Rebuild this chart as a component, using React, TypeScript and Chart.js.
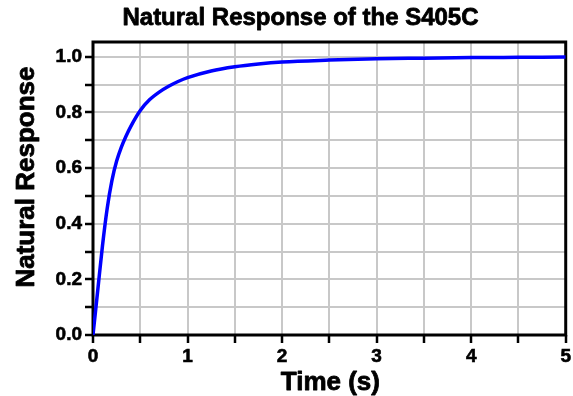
import React, { useEffect, useRef } from "react";
import { Chart, registerables } from "chart.js";

Chart.register(...registerables);

const chartTitle = "Natural Response of the S405C";
const xAxisTitle = "Time (s)";
const yAxisTitle = "Natural Response";

const times = [0, 0.025, 0.05, 0.1, 0.15, 0.2, 0.25, 0.3, 0.35, 0.4, 0.5, 0.6, 0.7, 0.8, 0.9, 1.0, 1.25, 1.5, 1.75, 2.0, 2.5, 3.0, 3.5, 4.0, 4.5, 5.0];
const response = [0, 0.08, 0.16, 0.32, 0.455, 0.555, 0.625, 0.675, 0.715, 0.75, 0.807, 0.846, 0.873, 0.894, 0.911, 0.925, 0.949, 0.964, 0.974, 0.981, 0.988, 0.993, 0.995, 0.997, 0.998, 0.999];

const xTickValues = [0, 0.5, 1, 1.5, 2, 2.5, 3, 3.5, 4, 4.5, 5];
const xTickLabels = ["0", "", "1", "", "2", "", "3", "", "4", "", "5"];
const yTickValues = [0, 0.1, 0.2, 0.3, 0.4, 0.5, 0.6, 0.7, 0.8, 0.9, 1.0];
const yTickLabels = ["0.0", "", "0.2", "", "0.4", "", "0.6", "", "0.8", "", "1.0"];

const FONT = "'Liberation Sans', Arial, Helvetica, sans-serif";

const textPlugin = {
  id: "frameAndText",
  beforeDatasetsDraw(chart: any) {
    const { ctx, chartArea } = chart;
    const { left, top, right, bottom } = chartArea;
    ctx.save();
    ctx.strokeStyle = "#000";
    ctx.lineWidth = 3;
    ctx.strokeRect(left, top, right - left, bottom - top);
    ctx.restore();
  },
  afterDraw(chart: any) {
    const { ctx, chartArea } = chart;
    ctx.save();
    ctx.fillStyle = "#000";
    ctx.strokeStyle = "#000";
    ctx.lineWidth = 0.8;
    ctx.lineJoin = "round";
    ctx.textAlign = "center";
    ctx.textBaseline = "alphabetic";
    ctx.font = `bold 24px ${FONT}`;
    ctx.fillText(chartTitle, 300.5, 25);
    ctx.strokeText(chartTitle, 300.5, 25);
    ctx.font = `bold 26px ${FONT}`;
    const cx = (chartArea.left + chartArea.right) / 2 + 1;
    ctx.fillText(xAxisTitle, cx, 390);
    ctx.strokeText(xAxisTitle, cx, 390);
    ctx.translate(34, 177);
    ctx.rotate(-Math.PI / 2);
    ctx.fillText(yAxisTitle, 0, 0);
    ctx.strokeText(yAxisTitle, 0, 0);
    ctx.restore();
  },
};

export default function App() {
  const ref = useRef<HTMLCanvasElement | null>(null);
  useEffect(() => {
    if (!ref.current) return;
    const tickFont = { family: FONT, size: 19, weight: "bold" };
    const grid = { color: "#c8c8c8", lineWidth: 2, tickColor: "#000", tickLength: 8, tickWidth: 2.5 };
    const chart = new Chart(ref.current, {
      type: "line",
      data: {
        datasets: [
          {
            data: times.map((t, i) => ({ x: t, y: response[i] })),
            borderColor: "#0000ff",
            borderWidth: 3.5,
            pointRadius: 0,
            cubicInterpolationMode: "monotone",
            fill: false,
          },
        ],
      },
      options: {
        animation: false,
        responsive: false,
        devicePixelRatio: 1,
        layout: { padding: { top: 42, right: 7, left: 0, bottom: 0 } },
        plugins: { legend: { display: false }, title: { display: false }, tooltip: { enabled: false } },
        scales: {
          x: {
            type: "linear",
            min: 0,
            max: 5,
            afterBuildTicks: (scale: any) => {
              scale.ticks = xTickValues.map((v) => ({ value: v }));
            },
            afterFit: (scale: any) => {
              scale.height = 61;
            },
            ticks: {
              callback: (_v: any, i: number) => xTickLabels[i],
              font: tickFont,
              color: "#000",
              textStrokeColor: "#000",
              textStrokeWidth: 0.6,
              padding: 2,
              maxRotation: 0,
              autoSkip: false,
            },
            grid,
            border: { display: false },
          },
          y: {
            type: "linear",
            min: 0,
            max: 1.053,
            afterBuildTicks: (scale: any) => {
              scale.ticks = yTickValues.map((v) => ({ value: v }));
            },
            afterFit: (scale: any) => {
              scale.width = 93;
            },
            ticks: {
              callback: (_v: any, i: number) => yTickLabels[i],
              font: tickFont,
              color: "#000",
              textStrokeColor: "#000",
              textStrokeWidth: 0.6,
              padding: 3,
              autoSkip: false,
            },
            grid,
            border: { display: false },
          },
        },
      },
      plugins: [textPlugin],
    } as any);
    return () => chart.destroy();
  }, []);
  return (
    <div style={{ position: "absolute", left: 0, top: 0, width: 573, height: 396, background: "#fff" }}>
      <canvas ref={ref} width={573} height={396} style={{ display: "block" }} />
    </div>
  );
}
